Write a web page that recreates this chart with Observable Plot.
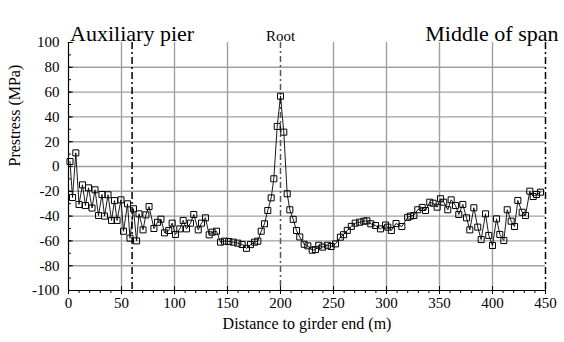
<!DOCTYPE html>
<html>
<head>
<meta charset="utf-8">
<script src="https://cdn.jsdelivr.net/npm/d3@7"></script>
<script src="https://cdn.jsdelivr.net/npm/@observablehq/plot@0.6"></script>
<style>
  html, body { margin: 0; padding: 0; background: #fff; }
</style>
</head>
<body>
<div id="chart"></div>
<script>
const distance = [1.4,3.8,6.9,9.9,13.2,16.0,18.9,22.2,25.0,28.3,
  31.6,34.0,37.3,40.6,43.4,45.8,49.5,51.9,55.7,58.0,
  61.3,64.2,66.5,70.3,73.0,76.0,80.6,84.0,87.2,90.6,
  94.6,97.8,100.9,105.0,108.2,111.3,115.1,118.2,122.4,125.5,
  129.2,132.7,135.5,139.6,143.4,147.2,151.2,155.4,159.7,163.8,
  167.9,171.7,175.5,178.6,181.8,184.9,188.0,191.2,193.7,196.9,
  200.0,203.1,206.3,208.8,212.0,215.1,218.2,222.3,225.8,229.9,
  233.0,236.1,239.8,244.3,247.8,251.9,256.5,259.5,263.0,266.8,
  270.5,274.7,278.6,281.5,285.2,289.6,294.3,299.1,301.2,304.6,
  309.0,314.5,320.0,322.6,325.8,329.5,333.7,336.8,340.8,344.0,
  347.8,350.9,354.0,357.8,361.0,365.1,368.2,372.0,375.5,378.6,
  382.4,386.1,389.3,393.4,396.5,400.0,403.8,406.9,410.7,413.9,
  417.6,420.8,423.9,428.0,431.1,435.2,438.4,441.5,445.3];

const prestress = [4,-25,11,-30.6,-14.8,-31.5,-17.2,-33.5,-18.8,-39.5,
  -22.6,-40,-22.8,-43.5,-27.5,-43.5,-26.9,-52.2,-30.1,-57.8,
  -34.1,-60,-38.2,-51.1,-39,-32.3,-50,-45,-42.5,-53.5,
  -51.6,-45.7,-54.8,-50.3,-43.5,-50.3,-45.7,-38.7,-51.1,-45.7,
  -41.4,-55.1,-53,-52.2,-61,-60.2,-60.5,-61,-61.8,-62.9,
  -66,-63,-61,-60.2,-52.2,-46.2,-35.5,-25.3,-9.9,32.3,
  56.7,27.7,-22,-34.9,-42.6,-51.6,-56.8,-62.7,-64,-67.5,
  -67,-63.5,-65,-63.5,-64.5,-62.4,-57,-55,-51.5,-48.3,
  -45.7,-44.9,-44.1,-43.8,-46.2,-47.6,-50.3,-47.2,-48.9,-51.6,
  -46,-48.4,-41,-40,-39.5,-34.9,-33,-35.5,-28.8,-29.6,
  -32.8,-26,-28.8,-34.9,-26.9,-31.5,-38.7,-30.6,-41.4,-51.1,
  -33.3,-48.9,-58.9,-38.2,-55.6,-63.7,-42.2,-54.8,-59.7,-34.9,
  -44.1,-48.4,-27.4,-36.9,-39.5,-19.9,-24.2,-22.6,-20.7];

const xTicks = [0,50,100,150,200,250,300,350,400,450];
const xMinorTicks = d3.range(0, 451, 10);
const yTicks = [-100,-80,-60,-40,-20,0,20,40,60,80,100];
const yMinorTicks = d3.range(-100, 101, 10);
const xGrid = [50,100,150,250,300,350,400];
const yGrid = [-80,-60,-40,-20,0,20,40,60,80];

const markers = [
  {pos: 60, label: "Auxiliary pier"},
  {pos: 200, label: "Root"},
  {pos: 450, label: "Middle of span"}
];

const data = distance.map((d, i) => ({d, v: prestress[i]}));

const chart = Plot.plot({
  width: 564,
  height: 342,
  marginLeft: 68,
  marginRight: 19,
  marginTop: 42,
  marginBottom: 52,
  style: {fontFamily: "'Liberation Serif', serif", fontSize: "15px", color: "#000", background: "#fff"},
  x: {domain: [0, 450]},
  y: {domain: [-100, 100]},
  marks: [
    Plot.ruleX(xGrid, {stroke: "#a0a0a0", strokeWidth: 1.4}),
    Plot.ruleY(yGrid, {stroke: "#a0a0a0", strokeWidth: 1.4}),
    Plot.ruleX([markers[0].pos], {stroke: "#000", strokeWidth: 1.5, strokeDasharray: "7,3,2,3"}),
    Plot.ruleX([markers[1].pos], {stroke: "#555", strokeWidth: 1.5, strokeDasharray: "6,3,2,3"}),
    Plot.ruleX([markers[2].pos], {stroke: "#000", strokeWidth: 1.5, strokeDasharray: "7,3,2,3"}),
    Plot.line(data, {x: "d", y: "v", stroke: "#000", strokeWidth: 0.9}),
    Plot.dot(data, {x: "d", y: "v", symbol: "square", r: 3.4, stroke: "#000", fill: "none", strokeWidth: 1}),
    Plot.ruleY([-100], {stroke: "#000", strokeWidth: 1.2}),
    Plot.ruleX([0], {stroke: "#000", strokeWidth: 1.2}),
    Plot.axisX(xTicks, {tickSize: 4, tickPadding: 3, fontSize: 15, fontFamily: "'Liberation Serif', serif", tickFormat: d => String(d), label: null}),
    Plot.axisX(xMinorTicks, {tickSize: 3, tickFormat: () => "", label: null}),
    Plot.ruleX(xTicks, {y1: -100, y2: -96.8, stroke: "#000"}),
    Plot.axisY(yTicks, {tickSize: 0, tickPadding: 9, fontSize: 15, fontFamily: "'Liberation Serif', serif", tickFormat: d => String(d), label: null}),
    Plot.ruleY(yTicks, {x1: 0, x2: 4.5, stroke: "#000"}),
    Plot.ruleY(yMinorTicks, {x1: 0, x2: 2.8, stroke: "#000"}),
    Plot.text([markers[0]], {x: "pos", text: "label", frameAnchor: "top", dy: -17, fontSize: 22}),
    Plot.text([markers[1]], {x: "pos", text: "label", frameAnchor: "top", dy: -12, fontSize: 15}),
    Plot.text([markers[2]], {x: "pos", text: "label", frameAnchor: "top", textAnchor: "end", dx: 13, dy: -17, fontSize: 22}),
    Plot.text(["Prestress (MPa)"], {frameAnchor: "left", rotate: -90, dx: -54, fontSize: 16}),
    Plot.text(["Distance to girder end (m)"], {frameAnchor: "bottom", dy: 38, fontSize: 16})
  ]
});
document.getElementById("chart").appendChild(chart);
</script>
</body>
</html>
